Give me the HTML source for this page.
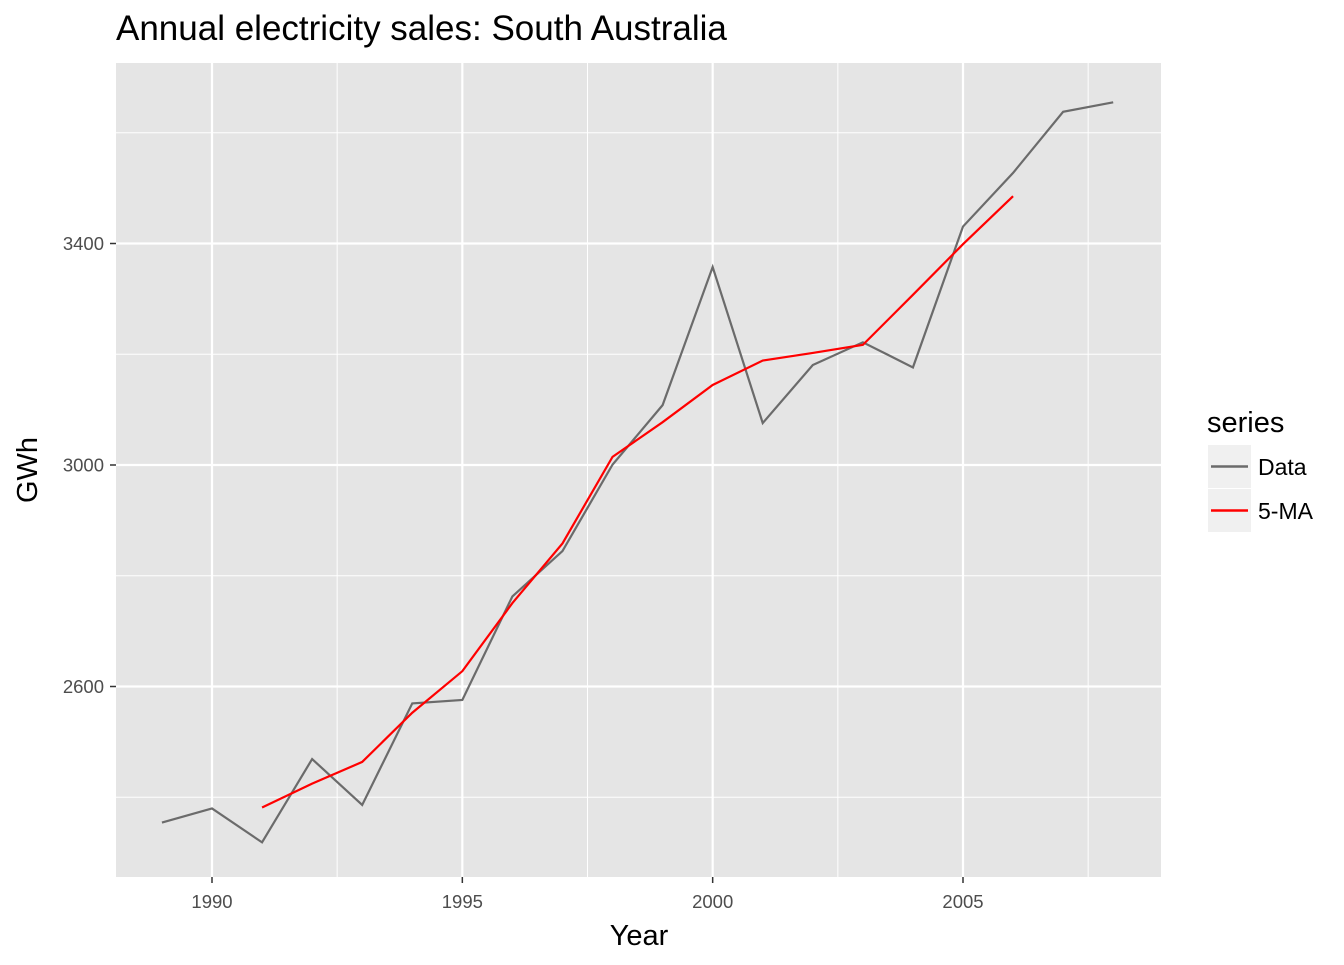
<!DOCTYPE html>
<html><head><meta charset="utf-8"><style>
body{margin:0;background:#fff;font-family:"Liberation Sans",Arial,sans-serif;}
svg text{font-family:"Liberation Sans",Arial,sans-serif;}
</style></head><body>
<svg id="chart" width="1344" height="960" xmlns="http://www.w3.org/2000/svg">
<text x="116" y="40" font-size="35" fill="#000">Annual electricity sales: South Australia</text>
<rect x="116" y="63" width="1045" height="814" fill="#e5e5e5"/>
<g id="grid"></g>
<g id="series"></g>
<g id="axes"></g>
<text x="639" y="945" font-size="29" text-anchor="middle" fill="#000">Year</text>
<text transform="translate(37,470) rotate(-90)" font-size="29" text-anchor="middle" fill="#000">GWh</text>
<g>
<text x="1207" y="432" font-size="29" fill="#000">series</text>
<rect x="1208" y="445" width="43" height="43" fill="#f0f0f0"/>
<line x1="1211" y1="466.5" x2="1248" y2="466.5" stroke="#6b6b6b" stroke-width="2.4"/>
<text x="1258" y="475" font-size="23" fill="#000">Data</text>
<rect x="1208" y="489" width="43" height="43" fill="#f0f0f0"/>
<line x1="1211" y1="510.5" x2="1248" y2="510.5" stroke="#ff0000" stroke-width="2.4"/>
<text x="1258" y="519" font-size="23" fill="#000">5-MA</text>
</g>
</svg>
<script>
const years=[1989,1990,1991,1992,1993,1994,1995,1996,1997,1998,1999,2000,2001,2002,2003,2004,2005,2006,2007,2008];
const sales=[2354.34,2379.71,2318.52,2468.99,2386.09,2569.47,2575.72,2762.72,2844.50,3000.70,3108.10,3357.50,3075.70,3180.60,3221.60,3176.20,3430.60,3527.48,3637.89,3655.00];
const maYears=[1991,1992,1993,1994,1995,1996,1997,1998,1999,2000,2001,2002,2003,2004,2005,2006];
const maValues=[2381.53,2424.56,2463.76,2552.60,2627.70,2750.62,2858.35,3014.70,3077.30,3144.52,3188.70,3202.32,3216.94,3307.30,3398.75,3485.43];
const xTicks=[1990,1995,2000,2005];
const xMinor=[1992.5,1997.5,2002.5,2007.5];
const yTicks=[2600,3000,3400];
const yMinor=[2400,2800,3200,3600];
const NS="http://www.w3.org/2000/svg";
function X(v){return 212+(v-1990)*(963-212)/15;}
function Y(v){return 465-(v-3000)*(221.5/400);}
function mk(tag,attrs,parent){const e=document.createElementNS(NS,tag);for(const k in attrs)e.setAttribute(k,attrs[k]);parent.appendChild(e);return e;}
const grid=document.getElementById('grid'),ser=document.getElementById('series'),ax=document.getElementById('axes');
yMinor.forEach(v=>{const l=mk('line',{x1:116,x2:1161,y1:Y(v),y2:Y(v),stroke:'#fff','stroke-width':1},grid);

});
xMinor.forEach(v=>{const l=mk('line',{x1:X(v),x2:X(v),y1:63,y2:877,stroke:'#fff','stroke-width':1},grid);

});
yTicks.forEach(v=>{const l=mk('line',{x1:116,x2:1161,y1:Y(v),y2:Y(v),stroke:'#fff','stroke-width':2.2},grid);


const t=mk('text',{x:104,y:Y(v)+6.5,'font-size':18.5,'text-anchor':'end',fill:'#4d4d4d'},ax);t.textContent=v;


const tk=mk('line',{x1:110,x2:116,y1:Y(v),y2:Y(v),stroke:'#333','stroke-width':1.5},ax);

});
xTicks.forEach(v=>{const l=mk('line',{x1:X(v),x2:X(v),y1:63,y2:877,stroke:'#fff','stroke-width':2.2},grid);


const t=mk('text',{x:X(v),y:908,'font-size':18.5,'text-anchor':'middle',fill:'#4d4d4d'},ax);t.textContent=v;


const tk=mk('line',{x1:X(v),x2:X(v),y1:877,y2:883,stroke:'#333','stroke-width':1.5},ax);

});
const p1=mk('polyline',{points:years.map((y,i)=>X(y)+','+Y(sales[i])).join(' '),fill:'none',stroke:'#6b6b6b','stroke-width':2.2},ser);


const p2=mk('polyline',{points:maYears.map((y,i)=>X(y)+','+Y(maValues[i])).join(' '),fill:'none',stroke:'#ff0000','stroke-width':2.2},ser);


</script>
</body></html>
